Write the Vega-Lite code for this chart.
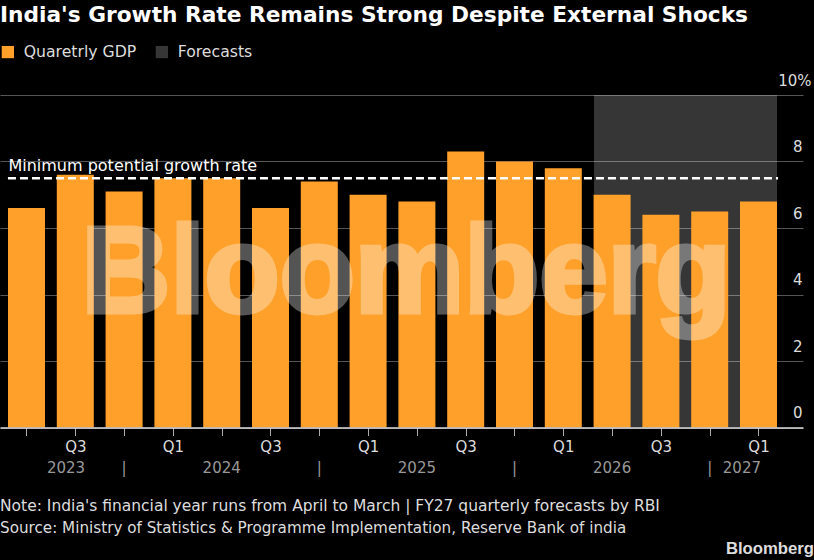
{
  "$schema": "https://vega.github.io/schema/vega-lite/v6.json",
  "width": 803,
  "height": 332.5,
  "autosize": "none",
  "padding": {"left": 0, "top": 95, "right": 11, "bottom": 132.5},
  "background": "#000000",
  "view": {"stroke": null},
  "title": {
    "text": "India's Growth Rate Remains Strong Despite External Shocks",
    "anchor": "start",
    "frame": "group",
    "offset": 17,
    "font": "DejaVu Sans",
    "fontWeight": "bold",
    "fontSize": 21.7,
    "color": "#ffffff"
  },
  "encoding": {
    "x": {
      "field": "i",
      "type": "quantitative",
      "title": null,
      "scale": {"domain": [-0.543, 15.912], "nice": false, "zero": false, "padding": 0},
      "axis": {
        "values": [0, 1, 2, 3, 4, 5, 6, 7, 8, 9, 10, 11, 12, 13, 14, 15],
        "labelExpr": "datum.value % 2 == 1 ? (datum.value % 4 == 1 ? 'Q3' : 'Q1') : ''",
        "grid": false,
        "domainColor": "#dddddd",
        "domainWidth": 1.5,
        "tickColor": "#aaaaaa",
        "tickSize": 8,
        "labelColor": "#dddddd",
        "labelFont": "DejaVu Sans",
        "labelFontSize": 15,
        "labelPadding": 4,
        "labelOverlap": false,
        "labelFlush": false,
        "zindex": 1
      }
    },
    "y": {
      "field": "v",
      "type": "quantitative",
      "title": null,
      "scale": {"domain": [0, 10], "nice": false},
      "axis": {
        "orient": "right",
        "values": [0, 2, 4, 6, 8, 10],
        "labelExpr": "datum.value == 10 ? '10%' : datum.label",
        "grid": true,
        "gridColor": "#555555",
        "gridWidth": 1.2,
        "domain": false,
        "ticks": false,
        "labelAlign": "right",
        "labelBaseline": "middle",
        "labelOffset": -15,
        "labelPadding": {"condition": {"test": "datum.value == 10", "value": 8}, "value": -1},
        "labelColor": "#dddddd",
        "labelFont": "DejaVu Sans",
        "labelFontSize": 15,
        "labelOverlap": false,
        "labelFlush": false
      }
    }
  },
  "layer": [
    {
      "data": {"values": [{"i": 11.63, "i2": 15.38, "v": 0, "v2": 10, "series": "Forecasts"}]},
      "mark": {"type": "rect"},
      "encoding": {
        "x2": {"field": "i2"},
        "y2": {"field": "v2"},
        "color": {
          "field": "series",
          "type": "nominal",
          "scale": {"domain": ["Quaretrly GDP", "Forecasts"], "range": ["#ffa02b", "rgba(255,255,255,0.21)"]},
          "legend": {
            "title": null,
            "orient": "none",
            "legendX": 0,
            "legendY": -51,
            "direction": "horizontal",
            "symbolType": "square",
            "symbolSize": 150,
            "labelColor": "#dddddd",
            "labelFont": "DejaVu Sans",
            "labelFontSize": 15.7,
            "columnPadding": 17,
            "labelOffset": 8
          }
        }
      }
    },
    {
      "data": {
        "values": [
          {"i": 0, "v": 6.6, "series": "Quaretrly GDP"},
          {"i": 1, "v": 7.6, "series": "Quaretrly GDP"},
          {"i": 2, "v": 7.1, "series": "Quaretrly GDP"},
          {"i": 3, "v": 7.5, "series": "Quaretrly GDP"},
          {"i": 4, "v": 7.5, "series": "Quaretrly GDP"},
          {"i": 5, "v": 6.6, "series": "Quaretrly GDP"},
          {"i": 6, "v": 7.4, "series": "Quaretrly GDP"},
          {"i": 7, "v": 7.0, "series": "Quaretrly GDP"},
          {"i": 8, "v": 6.8, "series": "Quaretrly GDP"},
          {"i": 9, "v": 8.3, "series": "Quaretrly GDP"},
          {"i": 10, "v": 8.0, "series": "Quaretrly GDP"},
          {"i": 11, "v": 7.8, "series": "Quaretrly GDP"},
          {"i": 12, "v": 7.0, "series": "Quaretrly GDP"},
          {"i": 13, "v": 6.4, "series": "Quaretrly GDP"},
          {"i": 14, "v": 6.5, "series": "Quaretrly GDP"},
          {"i": 15, "v": 6.8, "series": "Quaretrly GDP"}
        ]
      },
      "mark": {"type": "bar", "width": 37, "orient": "vertical"},
      "encoding": {
        "color": {"field": "series", "type": "nominal"}
      }
    },
    {
      "data": {"values": [{"i": -0.38, "i2": 15.4, "v": 7.5}]},
      "mark": {"type": "rule", "color": "#ffffff", "strokeWidth": 2.5, "strokeDash": [8, 4]},
      "encoding": {"x2": {"field": "i2"}}
    },
    {
      "data": {"values": [{"i": -0.37, "v": 7.5, "label": "Minimum potential growth rate"}]},
      "mark": {"type": "text", "align": "left", "baseline": "middle", "dy": -12, "font": "DejaVu Sans", "fontSize": 16, "color": "#ffffff"},
      "encoding": {"text": {"field": "label"}}
    },
    {
      "data": {"values": [{"i": 7.78, "v": 3.48, "label": "Bloomberg"}]},
      "mark": {"type": "text", "align": "center", "baseline": "alphabetic", "font": "Liberation Sans", "fontWeight": "bold", "fontSize": 123, "color": "#ffffff", "stroke": "#ffffff", "strokeWidth": 5, "opacity": 0.33},
      "encoding": {"text": {"field": "label"}}
    },
    {
      "data": {
        "values": [
          {"i": 0.81, "v": 0, "label": "2023"},
          {"i": 2, "v": 0, "label": "|"},
          {"i": 4, "v": 0, "label": "2024"},
          {"i": 6, "v": 0, "label": "|"},
          {"i": 8, "v": 0, "label": "2025"},
          {"i": 10, "v": 0, "label": "|"},
          {"i": 12, "v": 0, "label": "2026"},
          {"i": 14, "v": 0, "label": "|"},
          {"i": 14.66, "v": 0, "label": "2027"}
        ]
      },
      "mark": {"type": "text", "align": "center", "baseline": "middle", "dy": 40, "font": "DejaVu Sans", "fontSize": 15, "color": "#999999"},
      "encoding": {"text": {"field": "label"}}
    },
    {
      "data": {"values": [{"i": -0.543, "v": 0, "label": "Note: India's financial year runs from April to March | FY27 quarterly forecasts by RBI"}]},
      "mark": {"type": "text", "align": "left", "baseline": "middle", "dy": 78, "font": "DejaVu Sans", "fontSize": 15.5, "color": "#dddddd"},
      "encoding": {"text": {"field": "label"}}
    },
    {
      "data": {"values": [{"i": -0.543, "v": 0, "label": "Source: Ministry of Statistics & Programme Implementation, Reserve Bank of india"}]},
      "mark": {"type": "text", "align": "left", "baseline": "middle", "dy": 100, "font": "DejaVu Sans", "fontSize": 15.2, "color": "#dddddd"},
      "encoding": {"text": {"field": "label"}}
    },
    {
      "data": {"values": [{"i": 15.912, "v": 0, "label": "Bloomberg"}]},
      "mark": {"type": "text", "align": "right", "baseline": "middle", "dx": 11, "dy": 121, "font": "Liberation Sans", "fontWeight": "bold", "fontSize": 16.7, "color": "#dddddd"},
      "encoding": {"text": {"field": "label"}}
    }
  ]
}
